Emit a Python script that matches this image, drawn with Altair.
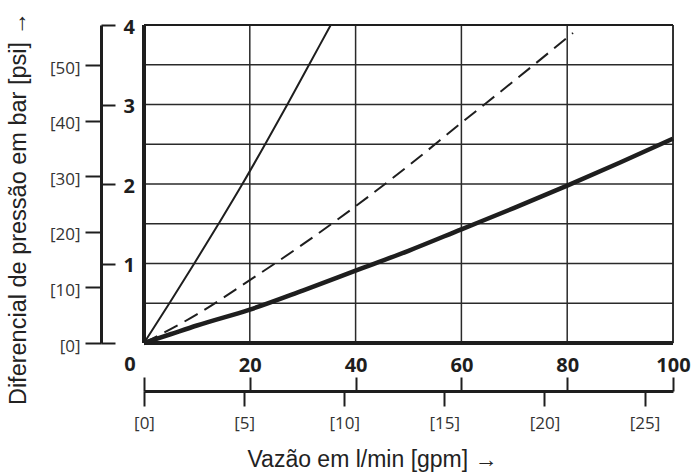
import altair as alt
import pandas as pd

INK = "#1e1e1e"
GRID = "#2a2a2a"
TICK_FONT = "Open Sans"
TITLE_FONT = "Liberation Sans"

# Flow (l/min) vs pressure drop (bar) for the three curves
thin_q = [0, 4.8, 9.5, 14.1, 18.6, 22.9, 27.1, 31.2, 35.3]
thin_p = [0, 0.5, 1.0, 1.5, 2.0, 2.5, 3.0, 3.5, 4.0]

dash_q = [0, 10, 20, 30, 40, 50, 60, 70, 81.1]
dash_p = [0, 0.36, 0.79, 1.24, 1.72, 2.23, 2.77, 3.30, 3.9]

thick_q = [0, 5, 10, 20, 30, 40, 50, 60, 70, 80, 90, 100]
thick_p = [0, 0.11, 0.22, 0.42, 0.66, 0.91, 1.16, 1.43, 1.70, 1.98, 2.27, 2.57]

# Grid and axis tick values
v_grid = [20, 40, 60, 80]
h_grid = [0.5, 1.0, 1.5, 2.0, 2.5, 3.0, 3.5]
lmin_ticks = [0, 20, 40, 60, 80, 100]
bar_ticks = [0, 1, 2, 3, 4]
psi_ticks = [0, 10, 20, 30, 40, 50]
gpm_ticks = [0, 5, 10, 15, 20, 25]

LMIN_MAX = 100
BAR_MAX = 4
GPM_MAX = LMIN_MAX / 3.785
PSI_MAX = 57.2

W, H = 529, 318

x_lmin = alt.X(
    "q:Q",
    scale=alt.Scale(domain=[0, LMIN_MAX], nice=False, zero=False),
    axis=alt.Axis(
        orient="top", offset=-366, values=lmin_ticks,
        labelExpr="datum.value == 0 ? '' : datum.label",
        tickSize=14, tickWidth=2, tickColor=INK, domain=False, grid=False,
        labelFont=TICK_FONT, labelFontWeight="bold", labelFontSize=20,
        labelColor=INK, labelPadding=6, labelBaseline="alphabetic",
        labelFlush=False, labelOverlap=False, title=None,
    ),
)
y_bar = alt.Y(
    "p:Q",
    scale=alt.Scale(domain=[0, BAR_MAX], nice=False, zero=True),
    axis=alt.Axis(
        orient="right", offset=-572, values=bar_ticks,
        labelExpr="datum.value == 0 ? '' : datum.label",
        tickSize=14, tickWidth=2, tickColor=INK,
        domain=True, domainWidth=3, domainColor=INK, grid=False,
        labelFont=TICK_FONT, labelFontWeight="bold", labelFontSize=20,
        labelColor=INK, labelPadding=8, labelAlign="left",
        labelBaseline="middle", labelOffset=2, labelFlush=False,
        labelOverlap=False, title=None,
    ),
)

def frame(df):
    return alt.Chart(df)

vgrid = frame(pd.DataFrame({"q": v_grid})).mark_rule(
    color=GRID, strokeWidth=1.5).encode(x=x_lmin)
hgrid = frame(pd.DataFrame({"p": h_grid})).mark_rule(
    color=GRID, strokeWidth=1.5).encode(y=y_bar)

left_edge = frame(pd.DataFrame({"q": [0]})).mark_rule(
    color=INK, strokeWidth=4).encode(x=x_lmin)
right_edge = frame(pd.DataFrame({"q": [LMIN_MAX]})).mark_rule(
    color=INK, strokeWidth=1.8).encode(x=x_lmin)
bottom_edge = frame(pd.DataFrame({"p": [0]})).mark_rule(
    color=INK, strokeWidth=4).encode(y=y_bar)
top_edge = frame(pd.DataFrame({"p": [BAR_MAX]})).mark_rule(
    color=INK, strokeWidth=1.8).encode(y=y_bar)

thin = frame(pd.DataFrame({"q": thin_q, "p": thin_p})).mark_line(
    color=INK, strokeWidth=2, interpolate="monotone").encode(x=x_lmin, y=y_bar)
dashed = frame(pd.DataFrame({"q": dash_q, "p": dash_p})).mark_line(
    color=INK, strokeWidth=2, strokeDash=[15, 8], interpolate="monotone"
).encode(x=x_lmin, y=y_bar)
thick = frame(pd.DataFrame({"q": thick_q, "p": thick_p})).mark_line(
    color=INK, strokeWidth=4.5, interpolate="monotone").encode(x=x_lmin, y=y_bar)

origin = frame(pd.DataFrame({"q": [0], "p": [0], "t": ["0"]})).mark_text(
    font=TICK_FONT, fontWeight="bold", fontSize=20, color=INK,
    align="center", baseline="alphabetic", dx=-14, dy=28,
).encode(x=x_lmin, y=y_bar, text="t:N")

main = alt.layer(vgrid, hgrid, left_edge, right_edge, bottom_edge, top_edge,
                 thin, dashed, thick, origin)

# Secondary units: gpm along the bottom, psi on the left
aux = frame(pd.DataFrame({"g": [0], "s": [0]})).mark_point(opacity=0).encode(
    x=alt.X(
        "g:Q",
        scale=alt.Scale(domain=[0, GPM_MAX], nice=False, zero=False),
        axis=alt.Axis(
            orient="bottom", offset=48, values=gpm_ticks,
            labelExpr="'[' + datum.label + ']'",
            tickSize=15, tickWidth=2, tickColor=INK,
            domain=True, domainWidth=3, domainColor=INK, grid=False,
            labelFont=TICK_FONT, labelFontSize=17, labelColor="#333",
            labelPadding=22, labelBaseline="alphabetic", labelFlush=False,
            labelOverlap=False,
            title="Vazão em l/min [gpm] →", titleFont=TITLE_FONT,
            titleFontSize=23, titleFontWeight="normal", titleColor="#222",
            titleX=228, titleY=75, titleBaseline="alphabetic",
            titleAlign="center",
        ),
    ),
    y=alt.Y(
        "s:Q",
        scale=alt.Scale(domain=[0, PSI_MAX], nice=False, zero=True),
        axis=alt.Axis(
            orient="left", offset=43, values=psi_ticks,
            labelExpr="'[' + datum.label + ']'",
            tickSize=16, tickWidth=2, tickColor=INK, domain=False, grid=False,
            labelFont=TICK_FONT, labelFontSize=17, labelColor="#333",
            labelPadding=5, labelOffset=3, labelFlush=False, labelOverlap=False,
            title="Diferencial de pressão em bar [psi] →", titleFont=TITLE_FONT,
            titleFontSize=23.5, titleFontWeight="normal", titleColor="#222",
            titleX=-76, titleY=183, titleBaseline="alphabetic",
            titleAlign="center",
        ),
    ),
)

chart = (
    alt.layer(main, aux)
    .resolve_scale(x="independent", y="independent")
    .properties(
        width=W, height=H,
        autosize=alt.AutoSizeParams(type="none"),
        padding={"left": 144, "top": 25, "right": 19, "bottom": 131},
    )
    .configure_view(stroke=None)
    .configure(background="white")
)

chart.save("out.html", embed_options={"renderer": "svg", "actions": False})
